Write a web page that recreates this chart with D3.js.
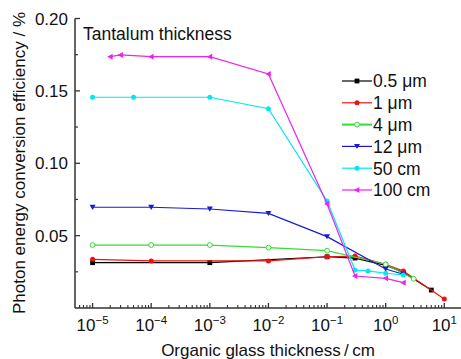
<!DOCTYPE html>
<html>
<head>
<meta charset="utf-8">
<script src="https://cdn.jsdelivr.net/npm/d3@7"></script>
<style>
  html, body { margin: 0; padding: 0; background: #ffffff; }
  svg { display: block; font-family: "Liberation Sans", Arial, sans-serif; }
</style>
</head>
<body>
<svg id="chart" width="461" height="359"></svg>
<script>
// Photon energy conversion efficiency vs. organic glass thickness, per tantalum thickness
const seriesLabels = ["0.5 \u03bcm", "1 \u03bcm", "4 \u03bcm", "12 \u03bcm", "50 cm", "100 cm"];

const glass05um = [1e-5, 1e-3, 1e-1, 0.3, 1, 2, 6];
const eff05um   = [0.0313, 0.0313, 0.0354, 0.0345, 0.0295, 0.0245, 0.0124];

const glass1um = [1e-5, 1e-4, 1e-2, 1e-1, 0.3, 1, 2, 10];
const eff1um   = [0.0336, 0.0325, 0.0325, 0.0354, 0.0359, 0.0302, 0.0256, 0.0062];

const glass4um = [1e-5, 1e-4, 1e-3, 1e-2, 1e-1, 1, 3];
const eff4um   = [0.0435, 0.0435, 0.0435, 0.0417, 0.0396, 0.0302, 0.0202];

const glass12um = [1e-5, 1e-4, 1e-3, 1e-2, 1e-1, 1, 2];
const eff12um   = [0.0696, 0.0696, 0.0684, 0.0654, 0.0493, 0.0269, 0.0233];

const glass50cm = [1e-5, 5e-5, 1e-3, 1e-2, 1e-1, 0.3, 0.5, 1, 2];
const eff50cm   = [0.1456, 0.1456, 0.1456, 0.1377, 0.0739, 0.0262, 0.0256, 0.0240, 0.0228];

const glass100cm = [2e-5, 3e-5, 1e-4, 1e-3, 1e-2, 1e-1, 0.3, 1, 2];
const eff100cm   = [0.1736, 0.1748, 0.1736, 0.1736, 0.1617, 0.0718, 0.0221, 0.0205, 0.0175];

const yTickValues = [0.05, 0.10, 0.15, 0.20];
const yMinorValues = [0.025, 0.075, 0.125, 0.175];
const xDecadeExponents = [-5, -4, -3, -2, -1, 0, 1];

const colors = ["#000000", "#ee1111", "#33dd33", "#1a1ad6", "#00e8f0", "#ee22ee"];
const shapes = ["square", "circle", "opencircle", "down", "circle", "left"];

const series = [
  [glass05um, eff05um], [glass1um, eff1um], [glass4um, eff4um],
  [glass12um, eff12um], [glass50cm, eff50cm], [glass100cm, eff100cm]
].map(([xs, ys], i) => ({
  label: seriesLabels[i], color: colors[i], shape: shapes[i],
  points: xs.map((x, j) => ({ x, y: ys[j] }))
}));

const svg = d3.select("#chart");
const x = d3.scaleLog().domain([Math.pow(10, -5.3), Math.pow(10, 1.285)]).range([75, 461]);
const y = d3.scaleLinear().domain([0, 0.20]).range([308, 18.5]);

const axisColor = "#333333";
const textColor = "#111111";

// Y axis with inward ticks
const yAxis = svg.append("g").attr("transform", "translate(75,0)");
yAxis.append("line").attr("x1", 0).attr("x2", 0).attr("y1", y(0.20)).attr("y2", 308)
  .attr("stroke", axisColor).attr("stroke-width", 1.5);
yAxis.selectAll("line.maj").data(yTickValues).join("line").attr("class", "maj")
  .attr("x1", 0).attr("x2", 5).attr("y1", d => y(d)).attr("y2", d => y(d))
  .attr("stroke", axisColor).attr("stroke-width", 1.3);
yAxis.selectAll("line.min").data(yMinorValues).join("line").attr("class", "min")
  .attr("x1", 0).attr("x2", 3).attr("y1", d => y(d)).attr("y2", d => y(d))
  .attr("stroke", axisColor).attr("stroke-width", 1.2);
yAxis.selectAll("text").data(yTickValues).join("text")
  .attr("x", -7).attr("y", d => y(d)).attr("dy", "0.36em")
  .attr("text-anchor", "end").attr("font-size", 17).attr("fill", textColor)
  .text(d => d3.format(".2f")(d));

// X axis (log) with inward major and minor ticks
const xAxis = svg.append("g").attr("transform", "translate(0,308)");
xAxis.append("line").attr("x1", 75).attr("x2", 461).attr("y1", 0).attr("y2", 0)
  .attr("stroke", axisColor).attr("stroke-width", 1.5);
const [xd0, xd1] = x.domain();
const minorX = [];
for (let e = -6; e <= 1; e++) {
  for (let m = 2; m <= 9; m++) {
    const v = m * Math.pow(10, e);
    if (v >= xd0 && v <= xd1) minorX.push(v);
  }
}
xAxis.selectAll("line.min").data(minorX).join("line").attr("class", "min")
  .attr("x1", d => x(d)).attr("x2", d => x(d)).attr("y1", 0).attr("y2", -3)
  .attr("stroke", axisColor).attr("stroke-width", 1.1);
xAxis.selectAll("line.maj").data(xDecadeExponents).join("line").attr("class", "maj")
  .attr("x1", d => x(Math.pow(10, d))).attr("x2", d => x(Math.pow(10, d)))
  .attr("y1", 0).attr("y2", -5)
  .attr("stroke", axisColor).attr("stroke-width", 1.3);
const xLabels = xAxis.selectAll("text").data(xDecadeExponents).join("text")
  .attr("x", d => x(Math.pow(10, d))).attr("y", 23)
  .attr("text-anchor", "middle").attr("font-size", 17).attr("fill", textColor);
xLabels.append("tspan").text("10");
xLabels.append("tspan").attr("dy", -7).attr("font-size", 11.5)
  .text(d => (d < 0 ? "\u2212" : "") + Math.abs(d));

// Axis titles
svg.append("text").attr("x", 268).attr("y", 356).attr("text-anchor", "middle")
  .attr("font-size", 17).attr("fill", textColor)
  .text("Organic glass thickness\u2009/\u2009cm");
svg.append("text").attr("transform", "translate(25,163) rotate(-90)")
  .attr("text-anchor", "middle").attr("font-size", 17).attr("fill", textColor)
  .text("Photon energy conversion efficiency / %");

svg.append("text").attr("x", 83).attr("y", 40).attr("font-size", 17.5).attr("fill", textColor)
  .text("Tantalum thickness");

// Marker drawing
function marker(sel, shape, color) {
  const s = 3;
  if (shape === "square") {
    sel.append("rect").attr("x", -2.4).attr("y", -2.4).attr("width", 4.8).attr("height", 4.8)
      .attr("fill", color);
  } else if (shape === "circle") {
    sel.append("circle").attr("r", 2.5).attr("fill", color);
  } else if (shape === "opencircle") {
    sel.append("circle").attr("r", 2.4).attr("fill", "#ffffff").attr("stroke", color).attr("stroke-width", 1);
  } else if (shape === "down") {
    sel.append("path").attr("d", `M${-s},${-s * 0.8}L${s},${-s * 0.8}L0,${s * 0.9}Z`).attr("fill", color);
  } else if (shape === "left") {
    sel.append("path").attr("d", `M${-s},0L${s * 0.8},${-s}L${s * 0.8},${s}Z`).attr("fill", color);
  }
}

const line = d3.line().x(d => x(d.x)).y(d => y(d.y));

const plot = svg.append("g");
series.forEach(s => {
  const g = plot.append("g");
  g.append("path").datum(s.points).attr("d", line)
    .attr("fill", "none").attr("stroke", s.color).attr("stroke-width", 1.2);
  g.selectAll("g.pt").data(s.points).join("g").attr("class", "pt")
    .attr("transform", d => `translate(${x(d.x)},${y(d.y)})`)
    .each(function () { marker(d3.select(this), s.shape, s.color); });
});

// Legend
const legend = svg.append("g");
const legendRow = d3.scalePoint().domain(d3.range(series.length)).range([81, 190]);
series.forEach((s, i) => {
  const g = legend.append("g").attr("transform", `translate(342,${legendRow(i)})`);
  g.append("line").attr("x1", 0).attr("x2", 30).attr("y1", 0).attr("y2", 0)
    .attr("stroke", s.color).attr("stroke-width", s.shape === "opencircle" ? 2 : 1.2);
  const m = g.append("g").attr("transform", "translate(15,0)");
  marker(m, s.shape, s.color);
  g.append("text").attr("x", 31).attr("y", 0).attr("dy", "0.36em")
    .attr("font-size", 17.5).attr("fill", textColor).text(s.label);
});
</script>
</body>
</html>
